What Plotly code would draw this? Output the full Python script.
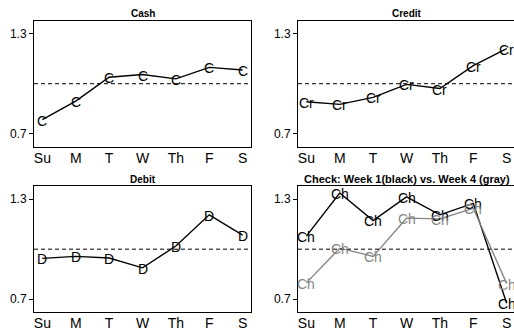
import plotly.graph_objects as go

# Weekday index values by payment method
days = ["Su", "M", "T", "W", "Th", "F", "S"]
cash = [0.784, 0.896, 1.039, 1.055, 1.029, 1.098, 1.082]
credit = [0.892, 0.876, 0.918, 0.996, 0.971, 1.108, 1.210]
debit = [0.945, 0.957, 0.947, 0.888, 1.019, 1.206, 1.084]
check_week1 = [1.078, 1.337, 1.172, 1.314, 1.206, 1.275, 0.676]
check_week4 = [0.798, 1.006, 0.957, 1.186, 1.182, 1.245, 0.794]

panel_titles = ["Cash", "Credit", "Debit", "Check: Week 1(black) vs. Week 4 (gray)"]
y_ticks = [0.7, 1.3]

W, H = 514, 331
FONT = "Liberation Sans, Arial, sans-serif"
x_idx = list(range(1, len(days) + 1))

# panel boxes in pixels: (left, right, top, bottom)
boxes = [(34, 251, 21, 149), (298, 515, 21, 149),
         (34, 251, 189, 317), (298, 515, 189, 317)]

fig = go.Figure()
annotations = []


def add_series(k, values, label, color):
    ax = "" if k == 0 else str(k + 1)
    fig.add_trace(go.Scatter(
        x=x_idx, y=values, mode="lines",
        line=dict(color=color, width=1.4),
        showlegend=False, hoverinfo="skip",
        xaxis="x" + ax, yaxis="y" + ax))
    # letter symbols centred on each point
    for xv, yv in zip(x_idx, values):
        annotations.append(dict(
            x=xv, y=yv, xref="x" + ax, yref="y" + ax, text=label,
            showarrow=False, xanchor="center", yanchor="middle", yshift=-1,
            font=dict(family=FONT, size=14, color=color)))


add_series(0, cash, "C", "black")
add_series(1, credit, "Cr", "black")
add_series(2, debit, "D", "black")
add_series(3, check_week1, "Ch", "black")
add_series(3, check_week4, "Ch", "#858585")

layout = dict(width=W, height=H, margin=dict(l=0, r=0, t=0, b=0),
              paper_bgcolor="white", plot_bgcolor="white",
              font=dict(family=FONT, color="black"))
shapes = []
for k, (l, r, t, b) in enumerate(boxes):
    ax = "" if k == 0 else str(k + 1)
    right_panel = r > W
    xd = [l / W, min(r / W, 1.0)]
    yd = [1 - b / H, 1 - t / H]
    layout["xaxis" + ax] = dict(
        domain=xd, anchor="y" + ax,
        range=[0.75, 7.25 - (0.03 if right_panel else 0.0)],
        tickvals=x_idx, ticktext=days, ticks="", showgrid=False, zeroline=False,
        showline=True, linecolor="black", linewidth=1, mirror=True,
        tickfont=dict(family=FONT, size=14, color="black"), ticklabelstandoff=-2)
    layout["yaxis" + ax] = dict(
        domain=yd, anchor="x" + ax, range=[0.622, 1.378],
        tickvals=y_ticks, ticktext=["0.7", "1.3"], ticks="outside", ticklen=4,
        tickcolor="black", showgrid=False, zeroline=False,
        showline=True, linecolor="black", linewidth=1, mirror=not right_panel,
        tickfont=dict(family=FONT, size=12, color="black"))
    shapes.append(dict(type="line", xref="x" + ax + " domain", x0=0, x1=1,
                       yref="y" + ax, y0=1.0, y1=1.0,
                       line=dict(color="black", width=1, dash="4px,3px")))
    annotations.append(dict(
        text="<b>" + panel_titles[k] + "</b>", xref="paper", yref="paper",
        x=(l + min(r, W + 1)) / 2 / W, y=1 - (t - 7) / H,
        xanchor="center", yanchor="middle", showarrow=False,
        font=dict(family=FONT, size=11 if k == 3 else 10, color="black")))

layout["shapes"] = shapes
layout["annotations"] = annotations
fig.update_layout(**layout)
fig.write_html("out.html")
